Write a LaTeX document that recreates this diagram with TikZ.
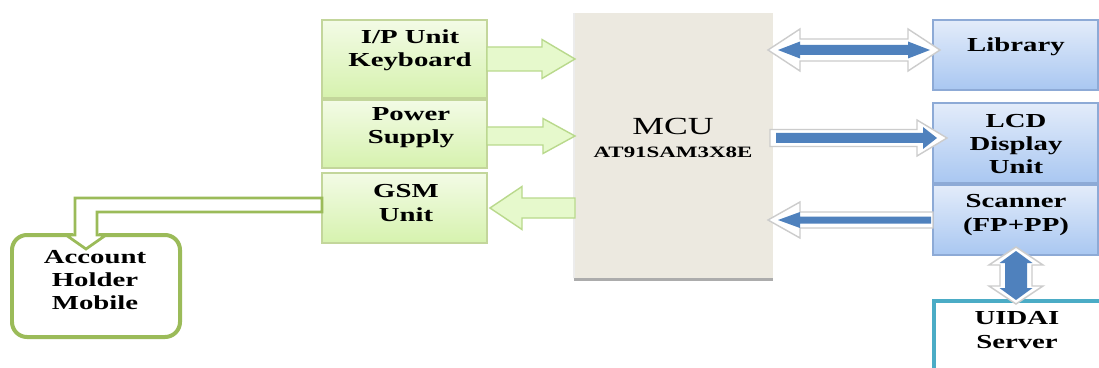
\documentclass[tikz,border=0pt]{standalone}
\usepackage{fontspec}
\newfontfamily\lab[FakeStretch=1.45]{Liberation Serif}
\usetikzlibrary{calc,fit}
\definecolor{gbord}{HTML}{C3D69B}
\definecolor{gtop}{HTML}{F3FBE6}
\definecolor{gbot}{HTML}{D6F2AE}
\definecolor{btop}{HTML}{E3ECFA}
\definecolor{bbot}{HTML}{A9C7F1}
\definecolor{bbord}{HTML}{8DAAD6}
\definecolor{mcufill}{HTML}{ECE9E0}
\definecolor{arrblue}{HTML}{4F81BD}
\definecolor{tealc}{HTML}{4BACC6}
\definecolor{mgreen}{HTML}{9BBB59}
\definecolor{garrfill}{HTML}{E6F9CC}
\definecolor{garrbord}{HTML}{B9D98C}
% horizontal single block arrow: style, tail x, tip x, y, shaft half, head half, head length
\newcommand\harr[7]{%
  \pgfmathsetmacro\myhb{#3-sign(#3-#2)*#7}%
  \draw[#1] (#2,#4-#5) -- (\myhb,#4-#5) -- (\myhb,#4-#6) -- (#3,#4) -- (\myhb,#4+#6) -- (\myhb,#4+#5) -- (#2,#4+#5) -- cycle;}
% horizontal double block arrow: style, left x, right x, y, shaft half, head half, head length
\newcommand\dharr[7]{%
  \draw[#1] (#2,#4) -- (#2+#7,#4-#6) -- (#2+#7,#4-#5) -- (#3-#7,#4-#5) -- (#3-#7,#4-#6) -- (#3,#4) -- (#3-#7,#4+#6) -- (#3-#7,#4+#5) -- (#2+#7,#4+#5) -- (#2+#7,#4+#6) -- cycle;}
% vertical double block arrow: style, x, top y, bottom y, shaft half, head half, head length
\newcommand\dvarr[7]{%
  \draw[#1] (#2,#3) -- (#2+#6,#3+#7) -- (#2+#5,#3+#7) -- (#2+#5,#4-#7) -- (#2+#6,#4-#7) -- (#2,#4) -- (#2-#6,#4-#7) -- (#2-#5,#4-#7) -- (#2-#5,#3+#7) -- (#2-#6,#3+#7) -- cycle;}
\begin{document}
\begin{tikzpicture}[x=0.02cm,y=-0.02cm,
  gbox/.style={draw=gbord, line width=0.6pt, top color=gtop, bottom color=gbot, inner sep=0pt},
  bbox/.style={draw=bbord, line width=0.6pt, top color=btop, bottom color=bbot, inner sep=0pt},
  txt/.style={font=\lab\bfseries\fontsize{11.3}{13.2}\selectfont, align=center, inner sep=0pt},
  garr/.style={fill=garrfill, draw=garrbord, line width=0.8pt, line join=miter},
  bout/.style={fill=white, draw=gray!40, line width=0.8pt},
  bin/.style={fill=arrblue, draw=none}]
\clip (0,0) rectangle (1099,368);
\fill[white] (0,0) rectangle (1099,368);

% MCU
\node[fit={(574,13) (773,278)}, fill=mcufill, inner sep=0pt] (mcu) {};
\draw[gray!65, line width=0.06cm] ($(mcu.south west)+(0,1)$) -- ($(mcu.south east)+(0,1)$);
\draw[gray!15, line width=0.04cm] (mcu.south west) -- (mcu.north west);
\node[font=\lab\fontsize{14}{16}\selectfont, inner sep=0pt] (mcut) at (673,126) {MCU};
\node[font=\lab\bfseries\fontsize{9}{11}\selectfont, inner sep=0pt] (mcut2) at (673,152) {AT91SAM3X8E};

% green boxes
\node[gbox, fit={(322,20) (487,98)}] (kb) {};
\node[gbox, fit={(322,100) (487,168)}] (ps) {};
\node[gbox, fit={(322,173) (487,243)}] (gsm) {};
\node[txt] (kbt) at (410,50) {I/P Unit\\Keyboard};
\node[txt] (pst) at (411,128) {Power\\Supply};
\node[txt] (gsmt) at (406,203) {GSM\\Unit};

% blue boxes
\node[bbox, fit={(933,20) (1098,90)}] (lib) {};
\node[bbox, fit={(933,103) (1098,183)}] (lcd) {};
\node[bbox, fit={(933,185) (1098,255)}] (scn) {};
\node[txt] (libt) at (1016,47) {Library};
\node[txt] (lcdt) at (1016,144) {LCD\\Display\\Unit};
\node[txt] (scnt) at (1016,215) {Scanner\\(FP+PP)};

% UIDAI server
\node[fit={(934,301) (1120,390)}, draw=tealc, line width=0.07cm, fill=white, inner sep=0pt] (uid) {};
\node[txt] (uidt) at (1017,330) {UIDAI\\Server};

% account holder mobile
\node[fit={(12,235) (180,337)}, draw=mgreen, line width=0.08cm, rounded corners=0.3cm, fill=white, inner sep=0pt] (mob) {};
\node[txt] (mobt) at (95,280) {Account\\Holder\\Mobile};

% green block arrows
\harr{garr}{487}{575}{59}{12}{19.5}{33}
\harr{garr}{487}{575}{136}{9}{17.5}{32}
\harr{garr}{575}{490}{208}{10}{21.5}{32}

% GSM -> mobile bent arrow
\fill[white] (73,230) rectangle (99,240);
\draw[mgreen, line width=0.055cm, fill=white, line join=miter]
  (322,198) -- (75,198) -- (75,235) -- (66,235) -- (86,249) -- (106,235) -- (97,235) -- (97,212) -- (322,212) -- cycle;

% blue arrows
\dharr{bout}{768}{940}{50}{11}{21}{32}
\dharr{bin}{778}{930}{50}{5}{8.5}{22}
\harr{bout}{770}{947}{138}{8.5}{18}{30}
\harr{bin}{776}{937}{138}{5}{11}{14}
\harr{bout}{933}{768}{220}{8}{18}{32}
\harr{bin}{931}{778}{220}{3.5}{8}{22}
\dvarr{bout}{1016}{247}{304}{16}{27}{18}
\dvarr{bin}{1016}{251}{300}{11}{16.5}{12}
\end{tikzpicture}
\end{document}
